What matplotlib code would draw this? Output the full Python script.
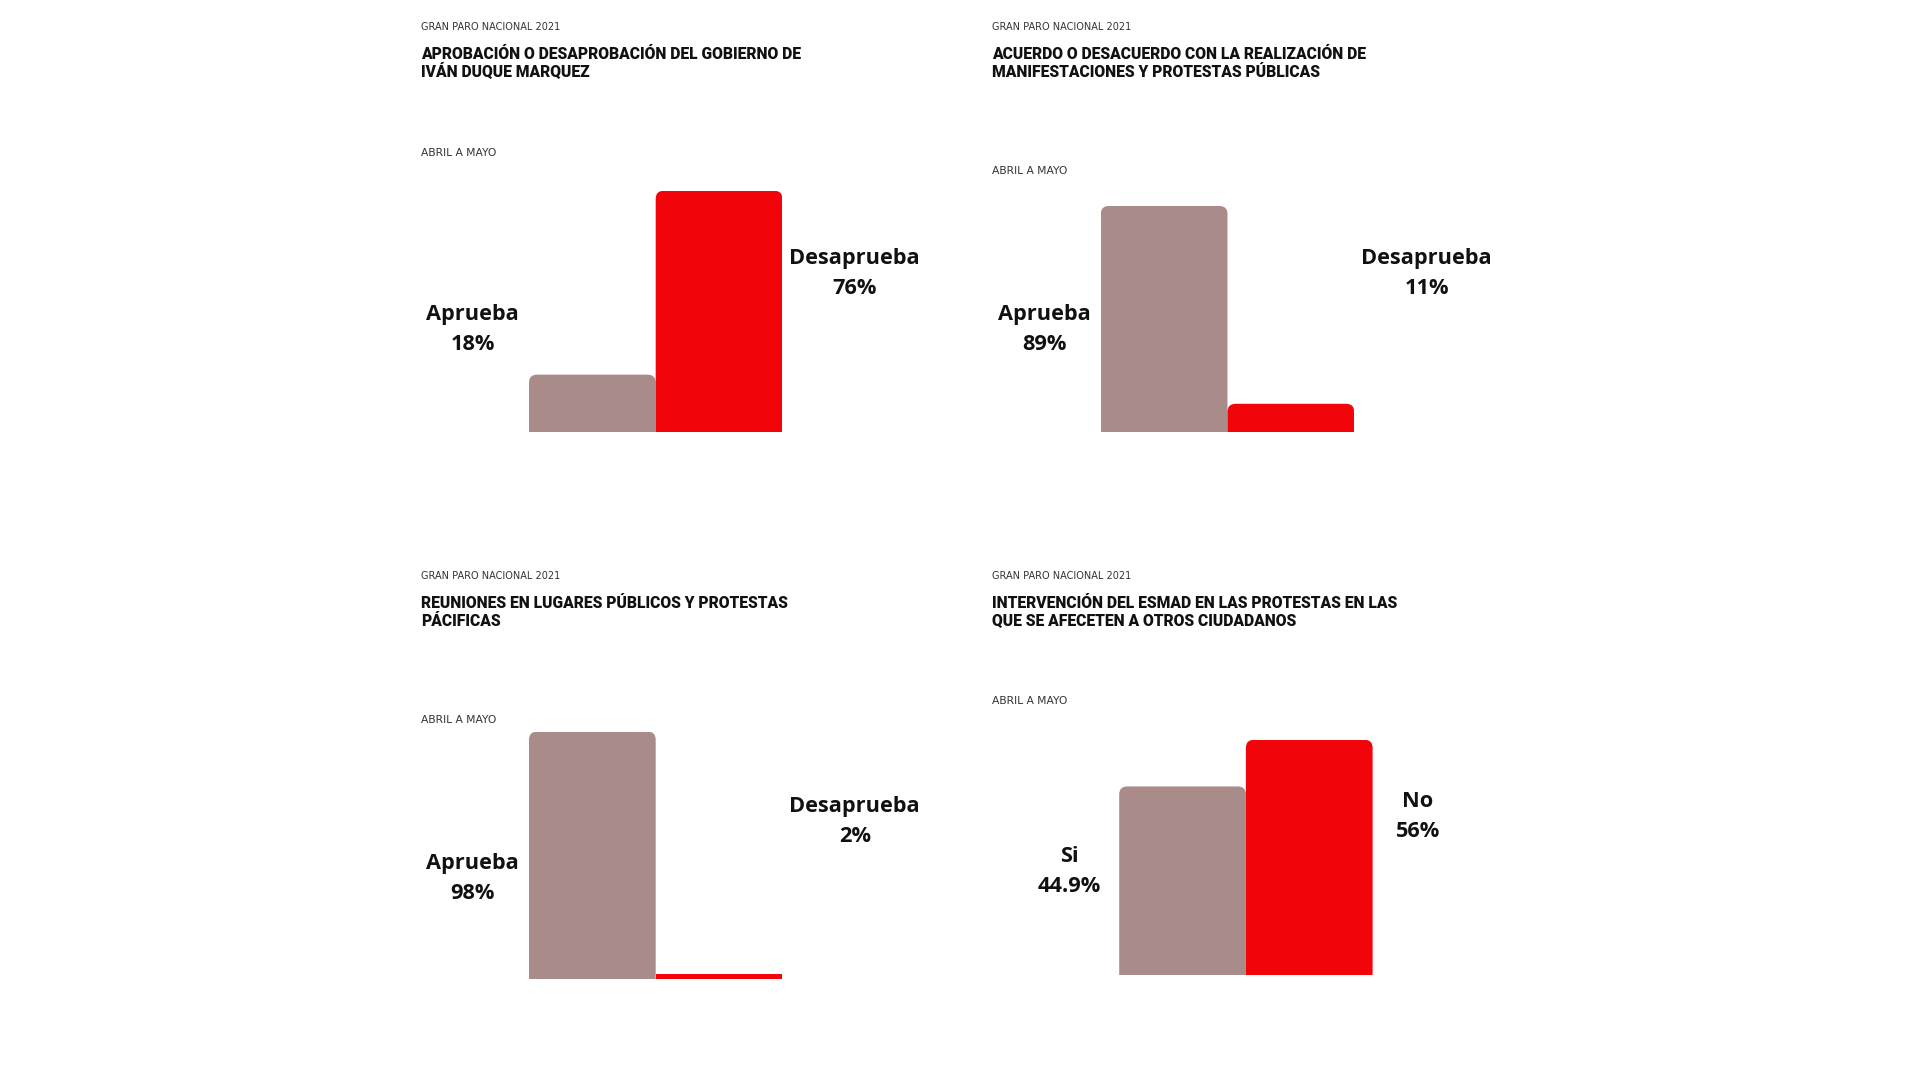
#!/usr/bin/env python3
# -*- coding: utf-8 -*-
import matplotlib
matplotlib.use('agg')
from matplotlib import pyplot as plt
from matplotlib import font_manager
from matplotlib.patches import FancyBboxPatch

# datos de las cuatro preguntas
kicker = "GRAN PARO NACIONAL 2021"
periodo = "ABRIL A MAYO"
titulos = [
    "APROBACIÓN O DESAPROBACIÓN DEL GOBIERNO DE\nIVÁN DUQUE MARQUEZ",
    "ACUERDO O DESACUERDO CON LA REALIZACIÓN DE\nMANIFESTACIONES Y PROTESTAS PÚBLICAS",
    "REUNIONES EN LUGARES PÚBLICOS Y PROTESTAS\nPÁCIFICAS",
    "INTERVENCIÓN DEL ESMAD EN LAS PROTESTAS EN LAS\nQUE SE AFECETEN A OTROS CIUDADANOS",
]
categorias = [
    ["Aprueba", "Desaprueba"],
    ["Aprueba", "Desaprueba"],
    ["Aprueba", "Desaprueba"],
    ["Si", "No"],
]
valores = [
    [18, 76],
    [89, 11],
    [98, 2],
    [44.9, 56],
]
etiquetas = [
    ["18%", "76%"],
    ["89%", "11%"],
    ["98%", "2%"],
    ["44.9%", "56%"],
]

GRIS = '#A98C89'
ROJO = '#F2040B'
W, H = 1920, 1080

# posiciones en pixeles de cada panel
paneles = [
    dict(tx=421, y0=0, bx=529, bw=126.7, base=431.7, ppu=3.17, ab=156,
         lab=[(472.6, 320), (854.7, 264)]),
    dict(tx=992, y0=0, bx=1100.8, bw=126.7, base=431.7, ppu=2.536, ab=174.4,
         lab=[(1044.5, 319.7), (1426.5, 263.7)]),
    dict(tx=421, y0=548.7, bx=529, bw=126.7, base=979.3, ppu=2.527, ab=722.7,
         lab=[(472.6, 868.7), (854.7, 812)]),
    dict(tx=992, y0=548.7, bx=1119.2, bw=126.7, base=975, ppu=4.2, ab=704.4,
         lab=[(1069, 862), (1418, 807)]),
]


def hay_fuente(nombre):
    try:
        font_manager.findfont(font_manager.FontProperties(family=nombre),
                              fallback_to_default=False)
        return True
    except Exception:
        return False


fam_titulo = 'Liberation Sans Narrow' if hay_fuente('Liberation Sans Narrow') else 'Roboto'

fig = plt.figure(figsize=(19.2, 10.8), dpi=100)
fig.patch.set_facecolor('white')
renderer = fig.canvas.get_renderer()


def fy(py):
    return 1 - py / H


def ajustar(t, ancho_px):
    # escala el tamano de letra para que el texto tenga el ancho deseado
    w = t.get_window_extent(renderer).width
    t.set_fontsize(t.get_fontsize() * ancho_px / w)


# tamano del titulo: se mide con la primera linea del primer panel
prueba = fig.text(0, 0, titulos[0].split('\n')[0], fontsize=11, family=fam_titulo,
                  weight=900)
ajustar(prueba, 380)
fs_titulo = prueba.get_fontsize()
prueba.remove()

for i, p in enumerate(paneles):
    vals = valores[i]
    vmax = max(vals)
    hpx = vmax * p['ppu']
    ax = fig.add_axes([p['bx'] / W, fy(p['base']), 2 * p['bw'] / W, hpx / H])
    ax.set_xlim(-0.5, 1.5)
    ax.set_ylim(0, vmax)
    ax.axis('off')

    bars = ax.bar([0, 1], vals, width=1, color=[GRIS, ROJO], linewidth=0)
    # esquinas superiores redondeadas (las inferiores quedan fuera del eje)
    xu = 1 / p['bw']
    yu = vmax / hpx
    for b in bars:
        bh_px = b.get_height() / yu
        if bh_px < 10:
            continue
        b.set_visible(False)
        r_px = 8
        ext = 2 * r_px * yu
        ax.add_patch(FancyBboxPatch((b.get_x(), -ext), b.get_width(), b.get_height() + ext,
                                    boxstyle=f"round,pad=0,rounding_size={r_px * xu}",
                                    mutation_aspect=yu / xu, fc=b.get_facecolor(),
                                    ec='none'))

    # textos
    t = fig.text(p['tx'] / W, fy(p['y0'] + 30.3), kicker, fontsize=6, family='DejaVu Sans',
                 color='#333333', va='baseline')
    ajustar(t, 141)
    l1, l2 = titulos[i].split('\n')
    fig.text(p['tx'] / W, fy(p['y0'] + 59.3), l1, fontsize=fs_titulo, family=fam_titulo,
             weight=900, color='#111111', va='baseline')
    fig.text(p['tx'] / W, fy(p['y0'] + 77), l2, fontsize=fs_titulo, family=fam_titulo,
             weight=900, color='#111111', va='baseline')
    t = fig.text(p['tx'] / W, fy(p['ab']), periodo, fontsize=6, family='DejaVu Sans',
                 color='#333333', va='baseline')
    ajustar(t, 76)
    for j in range(2):
        cx, by = p['lab'][j]
        fig.text(cx / W, fy(by), categorias[i][j], fontsize=15.7, family='Open Sans',
                 weight='bold', color='#111111', ha='center', va='baseline')
        fig.text(cx / W, fy(by + 30), etiquetas[i][j], fontsize=15.7, family='Open Sans',
                 weight='bold', color='#111111', ha='center', va='baseline')

fig.savefig('out.png', dpi=100, facecolor='white')
